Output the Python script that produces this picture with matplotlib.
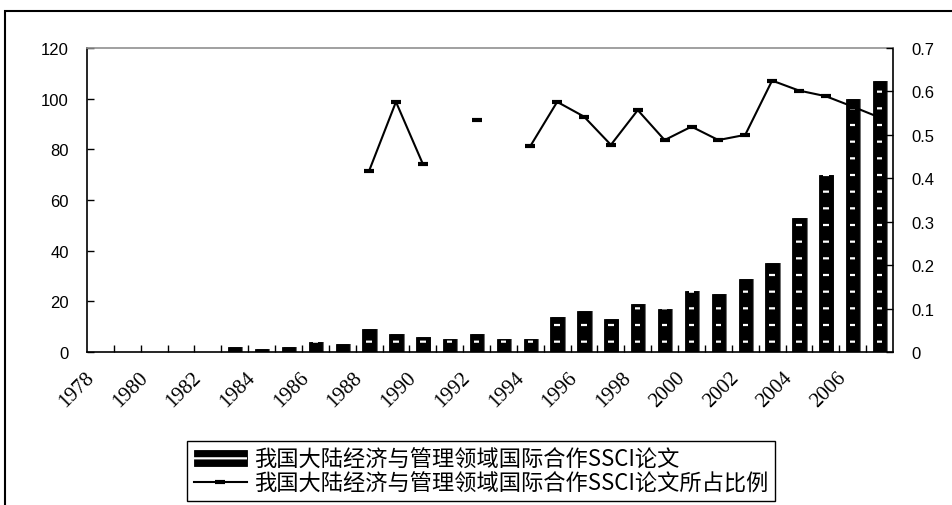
import numpy as np
import matplotlib.pyplot as plt
from matplotlib import font_manager
from matplotlib.patches import Rectangle
from matplotlib.transforms import ScaledTranslation

# 我国大陆经济与管理领域国际合作SSCI论文：篇数与所占比例
years = list(range(1978, 2008))
papers = [0, 0, 0, 0, 0, 2, 1, 2, 4, 3,
          9, 7, 6, 5, 7, 5, 5, 14, 16, 13,
          19, 17, 24, 23, 29, 35, 53, 70, 100, 107]
nan = np.nan
ratio = [nan, nan, nan, nan, nan, nan, nan, nan, nan, nan,
         0.417, 0.576, 0.433, nan, 0.535, nan, 0.474, 0.576, 0.542, 0.477,
         0.557, 0.488, 0.519, 0.488, 0.500, 0.625, 0.602, 0.589, 0.565, 0.540]
rticks = [0, 0.1, 0.2, 0.3, 0.4, 0.5, 0.6, 0.7]

label_bar = "我国大陆经济与管理领域国际合作SSCI论文"
label_line = "我国大陆经济与管理领域国际合作SSCI论文所占比例"

# 纵轴数字用窄体，没有就退回普通 Liberation Sans
installed = {f.name for f in font_manager.fontManager.ttflist}
if 'Liberation Sans Narrow' in installed:
    num_font, num_size = 'Liberation Sans Narrow', 13
else:
    num_font, num_size = 'Liberation Sans', 12

plt.rcParams['font.family'] = [num_font, 'DejaVu Sans']
plt.rcParams['hatch.linewidth'] = 1.6

fig = plt.figure(figsize=(9.52, 5.06), dpi=100)
ax = fig.add_axes([87 / 952, 1 - 353 / 506, 806 / 952, 304 / 506])
x = np.arange(len(years))

# 柱子：灰色阴影 + 黑色柱 + 白色短横纹
ax.bar(x + 0.07, papers, width=0.5, color='#707070', linewidth=0, zorder=1)
bars = ax.bar(x, papers, width=0.5, color='black', edgecolor='black', linewidth=0.6, zorder=2)
dashes = ax.bar(x, papers, width=0.2, facecolor='none', edgecolor='white', linewidth=0,
                hatch='-', zorder=3)

ax.set_xlim(-0.5, len(years) - 0.5)
ax.set_ylim(0, 120)
ax.tick_params(axis='x', which='major', length=0, pad=11)
ax.tick_params(axis='x', which='minor', direction='in', length=5, width=1)
ax.tick_params(axis='y', direction='in', length=5, width=1, pad=13, labelsize=num_size)
ax.set_yticks(range(0, 121, 20))
ax.set_xticks(x[:-1] + 0.5, minor=True)
ax.set_xticks(x[::2])
ax.set_xticklabels([str(y) for y in years[::2]], rotation=45, ha='right',
                   rotation_mode='anchor', family='Liberation Serif', fontsize=15)
for lab in ax.get_xticklabels():
    lab.set_transform(lab.get_transform() + ScaledTranslation(-16 / 100, 0, fig.dpi_scale_trans))

for side in ['left', 'bottom', 'right']:
    ax.spines[side].set_color('black')
    ax.spines[side].set_linewidth(1.2)
ax.spines['top'].set_color('#909090')
ax.spines['top'].set_linewidth(1.2)

# 比例折线（次坐标轴）
ax2 = ax.twinx()
line, = ax2.plot(x, ratio, color='black', linewidth=1.5, marker='_', markersize=7,
                 markeredgewidth=3)
ax2.set_ylim(0, 0.7)
ax2.tick_params(axis='y', direction='in', length=5, width=1, pad=13, labelsize=num_size)
ax2.set_yticks(rticks)
ax2.set_yticklabels(['%g' % t for t in rticks])
for side in ['left', 'bottom', 'right', 'top']:
    ax2.spines[side].set_visible(False)

# 图例
fig.legend([(bars[0], dashes[0]), line], [label_bar, label_line],
           loc='upper left', bbox_to_anchor=(187 / 952, 1 - 442 / 506),
           borderaxespad=0, prop={'family': ['Noto Sans CJK SC', 'DejaVu Sans'], 'size': 16},
           frameon=True, fancybox=False, edgecolor='black', framealpha=1,
           handlelength=2.4, handletextpad=0.3, borderpad=0.3, labelspacing=0.05)

# 图表外框（只露出左边和上边）
fig.add_artist(Rectangle((5 / 952, -0.5), 2.0, 0.5 + 1 - 12 / 506, transform=fig.transFigure,
                         fill=False, edgecolor='black', linewidth=1.5, clip_on=False))

fig.savefig('out.png', dpi=100)
